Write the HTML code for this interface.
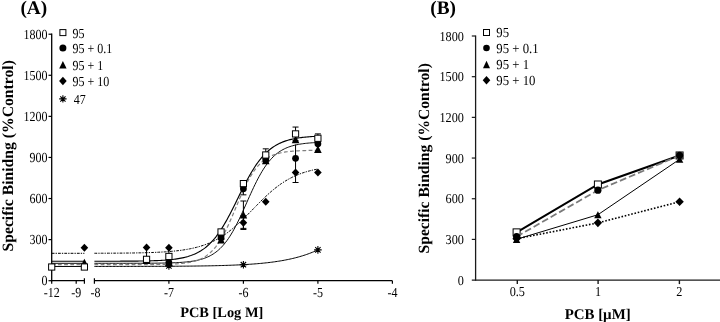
<!DOCTYPE html>
<html><head><meta charset="utf-8"><title>Figure</title>
<style>
html,body{margin:0;padding:0;background:#fff;}
body{width:720px;height:322px;overflow:hidden;font-family:"Liberation Serif",serif;}
svg{display:block;will-change:transform;text-rendering:geometricPrecision;}
.t{font-family:"Liberation Serif",serif;font-size:13.8px;fill:#000;}
.pt{font-family:"Liberation Serif",serif;font-size:19.3px;font-weight:bold;fill:#000;}
.al{font-family:"Liberation Serif",serif;font-size:13.3px;font-weight:bold;fill:#000;}
</style></head><body>
<svg width="720" height="322" viewBox="0 0 720 322">
<rect width="720" height="322" fill="#fff"/>
<g id="panelA">
<path d="M51.70,33.61 L51.70,281.30" stroke="#000" stroke-width="1.3" fill="none"/>
<path d="M48.50,280.70 L51.70,280.70" stroke="#000" stroke-width="1.2" fill="none"/>
<text transform="translate(47.60,285.35) scale(0.87,1)" text-anchor="end" class="t">0</text>
<path d="M48.50,239.62 L51.70,239.62" stroke="#000" stroke-width="1.2" fill="none"/>
<text transform="translate(47.60,244.27) scale(0.87,1)" text-anchor="end" class="t">300</text>
<path d="M48.50,198.54 L51.70,198.54" stroke="#000" stroke-width="1.2" fill="none"/>
<text transform="translate(47.60,203.19) scale(0.87,1)" text-anchor="end" class="t">600</text>
<path d="M48.50,157.45 L51.70,157.45" stroke="#000" stroke-width="1.2" fill="none"/>
<text transform="translate(47.60,162.10) scale(0.87,1)" text-anchor="end" class="t">900</text>
<path d="M48.50,116.37 L51.70,116.37" stroke="#000" stroke-width="1.2" fill="none"/>
<text transform="translate(47.60,121.02) scale(0.87,1)" text-anchor="end" class="t">1200</text>
<path d="M48.50,75.29 L51.70,75.29" stroke="#000" stroke-width="1.2" fill="none"/>
<text transform="translate(47.60,79.94) scale(0.87,1)" text-anchor="end" class="t">1500</text>
<path d="M48.50,34.21 L51.70,34.21" stroke="#000" stroke-width="1.2" fill="none"/>
<text transform="translate(47.60,38.86) scale(0.87,1)" text-anchor="end" class="t">1800</text>
<path d="M51.10,280.70 L84.40,280.70" stroke="#000" stroke-width="1.3" fill="none"/>
<path d="M51.70,280.70 L51.70,283.70 M76.2,280.70 L76.2,283.70 M84.40,278.30 L84.40,283.70" stroke="#000" stroke-width="1.2" fill="none"/>
<path d="M94.40,280.70 L392.40,280.70" stroke="#000" stroke-width="1.3" fill="none"/>
<path d="M94.40,278.30 L94.40,283.70" stroke="#000" stroke-width="1.2" fill="none"/>
<path d="M168.90,280.70 L168.90,283.70" stroke="#000" stroke-width="1.2" fill="none"/>
<text transform="translate(168.90,296.60) scale(0.87,1)" text-anchor="middle" class="t">-7</text>
<path d="M243.40,280.70 L243.40,283.70" stroke="#000" stroke-width="1.2" fill="none"/>
<text transform="translate(243.40,296.60) scale(0.87,1)" text-anchor="middle" class="t">-6</text>
<path d="M317.90,280.70 L317.90,283.70" stroke="#000" stroke-width="1.2" fill="none"/>
<text transform="translate(317.90,296.60) scale(0.87,1)" text-anchor="middle" class="t">-5</text>
<path d="M392.40,280.70 L392.40,283.70" stroke="#000" stroke-width="1.2" fill="none"/>
<text transform="translate(392.40,296.60) scale(0.87,1)" text-anchor="middle" class="t">-4</text>
<text transform="translate(51.70,296.60) scale(0.87,1)" text-anchor="middle" class="t">-12</text>
<text transform="translate(76.20,296.60) scale(0.87,1)" text-anchor="middle" class="t">-9</text>
<text transform="translate(95.40,296.60) scale(0.87,1)" text-anchor="middle" class="t">-8</text>
<path d="M51.70,266.46 L84.40,266.46" fill="none" stroke="#000" stroke-width="1.0"/>
<path d="M94.40,266.44 L95.80,266.44 L97.19,266.44 L98.59,266.44 L99.99,266.44 L101.38,266.44 L102.78,266.43 L104.18,266.43 L105.58,266.43 L106.97,266.43 L108.37,266.43 L109.77,266.43 L111.16,266.43 L112.56,266.43 L113.96,266.42 L115.35,266.42 L116.75,266.42 L118.15,266.42 L119.54,266.42 L120.94,266.42 L122.34,266.42 L123.73,266.41 L125.13,266.41 L126.53,266.41 L127.93,266.41 L129.32,266.40 L130.72,266.40 L132.12,266.40 L133.51,266.40 L134.91,266.39 L136.31,266.39 L137.70,266.39 L139.10,266.39 L140.50,266.38 L141.89,266.38 L143.29,266.38 L144.69,266.37 L146.08,266.37 L147.48,266.36 L148.88,266.36 L150.28,266.36 L151.67,266.35 L153.07,266.35 L154.47,266.34 L155.86,266.34 L157.26,266.33 L158.66,266.33 L160.05,266.32 L161.45,266.31 L162.85,266.31 L164.24,266.30 L165.64,266.29 L167.04,266.29 L168.43,266.28 L169.83,266.27 L171.23,266.26 L172.62,266.25 L174.02,266.24 L175.42,266.24 L176.82,266.23 L178.21,266.22 L179.61,266.20 L181.01,266.19 L182.40,266.18 L183.80,266.17 L185.20,266.16 L186.59,266.14 L187.99,266.13 L189.39,266.12 L190.78,266.10 L192.18,266.08 L193.58,266.07 L194.97,266.05 L196.37,266.03 L197.77,266.01 L199.17,265.99 L200.56,265.97 L201.96,265.95 L203.36,265.93 L204.75,265.91 L206.15,265.88 L207.55,265.86 L208.94,265.83 L210.34,265.80 L211.74,265.78 L213.13,265.75 L214.53,265.71 L215.93,265.68 L217.33,265.65 L218.72,265.61 L220.12,265.57 L221.52,265.54 L222.91,265.50 L224.31,265.45 L225.71,265.41 L227.10,265.36 L228.50,265.32 L229.90,265.27 L231.29,265.21 L232.69,265.16 L234.09,265.10 L235.48,265.04 L236.88,264.98 L238.28,264.92 L239.68,264.85 L241.07,264.78 L242.47,264.70 L243.87,264.63 L245.26,264.55 L246.66,264.46 L248.06,264.38 L249.45,264.29 L250.85,264.19 L252.25,264.09 L253.64,263.99 L255.04,263.88 L256.44,263.77 L257.83,263.65 L259.23,263.53 L260.63,263.41 L262.02,263.27 L263.42,263.14 L264.82,262.99 L266.22,262.84 L267.61,262.69 L269.01,262.52 L270.41,262.35 L271.80,262.18 L273.20,261.99 L274.60,261.80 L275.99,261.60 L277.39,261.39 L278.79,261.17 L280.18,260.95 L281.58,260.71 L282.98,260.47 L284.38,260.21 L285.77,259.95 L287.17,259.67 L288.57,259.38 L289.96,259.08 L291.36,258.77 L292.76,258.45 L294.15,258.11 L295.55,257.76 L296.95,257.39 L298.34,257.02 L299.74,256.62 L301.14,256.21 L302.53,255.79 L303.93,255.34 L305.33,254.88 L306.72,254.41 L308.12,253.91 L309.52,253.40 L310.92,252.87 L312.31,252.31 L313.71,251.74 L315.11,251.14 L316.50,250.53 L317.90,249.89" fill="none" stroke="#000" stroke-width="1.0"/>
<path d="M51.70,253.31 L84.40,253.31" fill="none" stroke="#000" stroke-width="1.0" stroke-dasharray="2.8,1.1,1.3,1.1"/>
<path d="M94.40,253.26 L95.80,253.25 L97.19,253.25 L98.59,253.24 L99.99,253.24 L101.38,253.23 L102.78,253.23 L104.18,253.22 L105.58,253.22 L106.97,253.21 L108.37,253.20 L109.77,253.20 L111.16,253.19 L112.56,253.18 L113.96,253.17 L115.35,253.16 L116.75,253.15 L118.15,253.14 L119.54,253.13 L120.94,253.12 L122.34,253.11 L123.73,253.09 L125.13,253.08 L126.53,253.06 L127.93,253.05 L129.32,253.03 L130.72,253.01 L132.12,252.99 L133.51,252.97 L134.91,252.94 L136.31,252.92 L137.70,252.89 L139.10,252.87 L140.50,252.84 L141.89,252.80 L143.29,252.77 L144.69,252.73 L146.08,252.70 L147.48,252.66 L148.88,252.61 L150.28,252.57 L151.67,252.52 L153.07,252.46 L154.47,252.41 L155.86,252.35 L157.26,252.28 L158.66,252.22 L160.05,252.14 L161.45,252.07 L162.85,251.98 L164.24,251.90 L165.64,251.80 L167.04,251.70 L168.43,251.60 L169.83,251.49 L171.23,251.37 L172.62,251.24 L174.02,251.10 L175.42,250.96 L176.82,250.81 L178.21,250.65 L179.61,250.47 L181.01,250.29 L182.40,250.09 L183.80,249.89 L185.20,249.67 L186.59,249.43 L187.99,249.19 L189.39,248.92 L190.78,248.65 L192.18,248.35 L193.58,248.04 L194.97,247.71 L196.37,247.36 L197.77,246.99 L199.17,246.60 L200.56,246.19 L201.96,245.75 L203.36,245.29 L204.75,244.81 L206.15,244.29 L207.55,243.76 L208.94,243.19 L210.34,242.60 L211.74,241.97 L213.13,241.31 L214.53,240.63 L215.93,239.91 L217.33,239.15 L218.72,238.37 L220.12,237.54 L221.52,236.69 L222.91,235.80 L224.31,234.87 L225.71,233.91 L227.10,232.91 L228.50,231.87 L229.90,230.80 L231.29,229.70 L232.69,228.56 L234.09,227.39 L235.48,226.19 L236.88,224.95 L238.28,223.69 L239.68,222.40 L241.07,221.09 L242.47,219.75 L243.87,218.39 L245.26,217.01 L246.66,215.62 L248.06,214.21 L249.45,212.80 L250.85,211.37 L252.25,209.94 L253.64,208.51 L255.04,207.08 L256.44,205.65 L257.83,204.23 L259.23,202.82 L260.63,201.42 L262.02,200.04 L263.42,198.68 L264.82,197.34 L266.22,196.02 L267.61,194.72 L269.01,193.46 L270.41,192.22 L271.80,191.01 L273.20,189.83 L274.60,188.69 L275.99,187.58 L277.39,186.50 L278.79,185.46 L280.18,184.45 L281.58,183.48 L282.98,182.55 L284.38,181.65 L285.77,180.78 L287.17,179.96 L288.57,179.16 L289.96,178.40 L291.36,177.68 L292.76,176.98 L294.15,176.32 L295.55,175.69 L296.95,175.09 L298.34,174.52 L299.74,173.97 L301.14,173.45 L302.53,172.96 L303.93,172.50 L305.33,172.06 L306.72,171.64 L308.12,171.25 L309.52,170.87 L310.92,170.52 L312.31,170.19 L313.71,169.87 L315.11,169.57 L316.50,169.29 L317.90,169.02" fill="none" stroke="#000" stroke-width="1.0" stroke-dasharray="2.8,1.1,1.3,1.1"/>
<path d="M51.70,263.31 L84.40,263.31" fill="none" stroke="#000" stroke-width="0.95"/>
<path d="M94.40,263.31 L95.80,263.31 L97.19,263.31 L98.59,263.31 L99.99,263.31 L101.38,263.31 L102.78,263.31 L104.18,263.31 L105.58,263.31 L106.97,263.30 L108.37,263.30 L109.77,263.30 L111.16,263.30 L112.56,263.30 L113.96,263.30 L115.35,263.30 L116.75,263.30 L118.15,263.30 L119.54,263.30 L120.94,263.30 L122.34,263.30 L123.73,263.30 L125.13,263.29 L126.53,263.29 L127.93,263.29 L129.32,263.29 L130.72,263.29 L132.12,263.28 L133.51,263.28 L134.91,263.28 L136.31,263.28 L137.70,263.27 L139.10,263.27 L140.50,263.26 L141.89,263.26 L143.29,263.25 L144.69,263.25 L146.08,263.24 L147.48,263.23 L148.88,263.22 L150.28,263.21 L151.67,263.20 L153.07,263.19 L154.47,263.18 L155.86,263.17 L157.26,263.15 L158.66,263.13 L160.05,263.11 L161.45,263.09 L162.85,263.07 L164.24,263.04 L165.64,263.01 L167.04,262.98 L168.43,262.95 L169.83,262.91 L171.23,262.86 L172.62,262.81 L174.02,262.76 L175.42,262.70 L176.82,262.63 L178.21,262.56 L179.61,262.48 L181.01,262.39 L182.40,262.29 L183.80,262.18 L185.20,262.06 L186.59,261.92 L187.99,261.77 L189.39,261.61 L190.78,261.43 L192.18,261.22 L193.58,261.00 L194.97,260.75 L196.37,260.48 L197.77,260.18 L199.17,259.85 L200.56,259.48 L201.96,259.08 L203.36,258.64 L204.75,258.15 L206.15,257.61 L207.55,257.02 L208.94,256.38 L210.34,255.67 L211.74,254.89 L213.13,254.04 L214.53,253.11 L215.93,252.10 L217.33,251.00 L218.72,249.81 L220.12,248.52 L221.52,247.12 L222.91,245.61 L224.31,243.98 L225.71,242.24 L227.10,240.37 L228.50,238.38 L229.90,236.26 L231.29,234.02 L232.69,231.66 L234.09,229.18 L235.48,226.58 L236.88,223.87 L238.28,221.06 L239.68,218.16 L241.07,215.19 L242.47,212.14 L243.87,209.05 L245.26,205.93 L246.66,202.79 L248.06,199.64 L249.45,196.51 L250.85,193.42 L252.25,190.37 L253.64,187.38 L255.04,184.47 L256.44,181.65 L257.83,178.93 L259.23,176.32 L260.63,173.82 L262.02,171.44 L263.42,169.18 L264.82,167.05 L266.22,165.04 L267.61,163.16 L269.01,161.40 L270.41,159.76 L271.80,158.23 L273.20,156.82 L274.60,155.51 L275.99,154.30 L277.39,153.19 L278.79,152.17 L280.18,151.23 L281.58,150.37 L282.98,149.58 L284.38,148.87 L285.77,148.21 L287.17,147.61 L288.57,147.07 L289.96,146.58 L291.36,146.13 L292.76,145.72 L294.15,145.35 L295.55,145.01 L296.95,144.71 L298.34,144.43 L299.74,144.18 L301.14,143.96 L302.53,143.75 L303.93,143.57 L305.33,143.40 L306.72,143.25 L308.12,143.11 L309.52,142.99 L310.92,142.88 L312.31,142.77 L313.71,142.68 L315.11,142.60 L316.50,142.53 L317.90,142.46" fill="none" stroke="#000" stroke-width="0.95"/>
<path d="M51.70,264.68 L84.40,264.68" fill="none" stroke="#808080" stroke-width="1.2" stroke-dasharray="3.8,2.4"/>
<path d="M94.40,264.68 L95.80,264.68 L97.19,264.68 L98.59,264.68 L99.99,264.68 L101.38,264.68 L102.78,264.68 L104.18,264.68 L105.58,264.68 L106.97,264.68 L108.37,264.68 L109.77,264.67 L111.16,264.67 L112.56,264.67 L113.96,264.67 L115.35,264.67 L116.75,264.67 L118.15,264.67 L119.54,264.67 L120.94,264.67 L122.34,264.67 L123.73,264.67 L125.13,264.67 L126.53,264.67 L127.93,264.66 L129.32,264.66 L130.72,264.66 L132.12,264.66 L133.51,264.66 L134.91,264.65 L136.31,264.65 L137.70,264.65 L139.10,264.64 L140.50,264.64 L141.89,264.63 L143.29,264.63 L144.69,264.62 L146.08,264.61 L147.48,264.61 L148.88,264.60 L150.28,264.59 L151.67,264.58 L153.07,264.56 L154.47,264.55 L155.86,264.53 L157.26,264.52 L158.66,264.50 L160.05,264.48 L161.45,264.45 L162.85,264.42 L164.24,264.39 L165.64,264.35 L167.04,264.32 L168.43,264.27 L169.83,264.22 L171.23,264.16 L172.62,264.10 L174.02,264.03 L175.42,263.95 L176.82,263.86 L178.21,263.76 L179.61,263.65 L181.01,263.52 L182.40,263.38 L183.80,263.22 L185.20,263.04 L186.59,262.85 L187.99,262.62 L189.39,262.37 L190.78,262.10 L192.18,261.78 L193.58,261.44 L194.97,261.05 L196.37,260.62 L197.77,260.13 L199.17,259.60 L200.56,259.00 L201.96,258.34 L203.36,257.60 L204.75,256.79 L206.15,255.89 L207.55,254.89 L208.94,253.80 L210.34,252.60 L211.74,251.28 L213.13,249.83 L214.53,248.26 L215.93,246.55 L217.33,244.70 L218.72,242.71 L220.12,240.56 L221.52,238.27 L222.91,235.83 L224.31,233.24 L225.71,230.51 L227.10,227.66 L228.50,224.68 L229.90,221.59 L231.29,218.42 L232.69,215.17 L234.09,211.88 L235.48,208.55 L236.88,205.21 L238.28,201.89 L239.68,198.61 L241.07,195.39 L242.47,192.24 L243.87,189.19 L245.26,186.25 L246.66,183.44 L248.06,180.75 L249.45,178.22 L250.85,175.82 L252.25,173.58 L253.64,171.48 L255.04,169.54 L256.44,167.74 L257.83,166.07 L259.23,164.55 L260.63,163.15 L262.02,161.87 L263.42,160.70 L264.82,159.64 L266.22,158.68 L267.61,157.81 L269.01,157.02 L270.41,156.31 L271.80,155.67 L273.20,155.09 L274.60,154.57 L275.99,154.11 L277.39,153.69 L278.79,153.32 L280.18,152.98 L281.58,152.68 L282.98,152.41 L284.38,152.17 L285.77,151.96 L287.17,151.77 L288.57,151.60 L289.96,151.44 L291.36,151.31 L292.76,151.19 L294.15,151.08 L295.55,150.98 L296.95,150.90 L298.34,150.82 L299.74,150.75 L301.14,150.69 L302.53,150.64 L303.93,150.59 L305.33,150.55 L306.72,150.51 L308.12,150.47 L309.52,150.44 L310.92,150.42 L312.31,150.39 L313.71,150.37 L315.11,150.35 L316.50,150.33 L317.90,150.32" fill="none" stroke="#808080" stroke-width="1.2" stroke-dasharray="3.8,2.4"/>
<path d="M51.70,261.25 L84.40,261.25" fill="none" stroke="#000" stroke-width="1.15"/>
<path d="M94.40,261.24 L95.80,261.24 L97.19,261.24 L98.59,261.24 L99.99,261.24 L101.38,261.24 L102.78,261.23 L104.18,261.23 L105.58,261.23 L106.97,261.23 L108.37,261.23 L109.77,261.22 L111.16,261.22 L112.56,261.22 L113.96,261.21 L115.35,261.21 L116.75,261.21 L118.15,261.20 L119.54,261.20 L120.94,261.19 L122.34,261.18 L123.73,261.18 L125.13,261.17 L126.53,261.16 L127.93,261.15 L129.32,261.14 L130.72,261.13 L132.12,261.12 L133.51,261.11 L134.91,261.10 L136.31,261.08 L137.70,261.07 L139.10,261.05 L140.50,261.03 L141.89,261.01 L143.29,260.98 L144.69,260.96 L146.08,260.93 L147.48,260.90 L148.88,260.86 L150.28,260.83 L151.67,260.79 L153.07,260.74 L154.47,260.69 L155.86,260.64 L157.26,260.58 L158.66,260.52 L160.05,260.45 L161.45,260.38 L162.85,260.29 L164.24,260.20 L165.64,260.10 L167.04,260.00 L168.43,259.88 L169.83,259.75 L171.23,259.61 L172.62,259.45 L174.02,259.28 L175.42,259.10 L176.82,258.90 L178.21,258.68 L179.61,258.44 L181.01,258.18 L182.40,257.90 L183.80,257.59 L185.20,257.25 L186.59,256.89 L187.99,256.49 L189.39,256.05 L190.78,255.58 L192.18,255.07 L193.58,254.52 L194.97,253.91 L196.37,253.26 L197.77,252.56 L199.17,251.79 L200.56,250.97 L201.96,250.08 L203.36,249.12 L204.75,248.09 L206.15,246.98 L207.55,245.79 L208.94,244.52 L210.34,243.16 L211.74,241.71 L213.13,240.17 L214.53,238.53 L215.93,236.79 L217.33,234.96 L218.72,233.02 L220.12,230.99 L221.52,228.85 L222.91,226.63 L224.31,224.31 L225.71,221.90 L227.10,219.41 L228.50,216.84 L229.90,214.20 L231.29,211.50 L232.69,208.75 L234.09,205.96 L235.48,203.14 L236.88,200.30 L238.28,197.45 L239.68,194.60 L241.07,191.78 L242.47,188.97 L243.87,186.21 L245.26,183.49 L246.66,180.83 L248.06,178.24 L249.45,175.72 L250.85,173.29 L252.25,170.94 L253.64,168.68 L255.04,166.51 L256.44,164.44 L257.83,162.48 L259.23,160.61 L260.63,158.84 L262.02,157.17 L263.42,155.59 L264.82,154.11 L266.22,152.72 L267.61,151.42 L269.01,150.20 L270.41,149.07 L271.80,148.01 L273.20,147.03 L274.60,146.12 L275.99,145.27 L277.39,144.49 L278.79,143.77 L280.18,143.10 L281.58,142.48 L282.98,141.91 L284.38,141.38 L285.77,140.90 L287.17,140.45 L288.57,140.04 L289.96,139.66 L291.36,139.32 L292.76,139.00 L294.15,138.71 L295.55,138.44 L296.95,138.19 L298.34,137.97 L299.74,137.76 L301.14,137.57 L302.53,137.40 L303.93,137.24 L305.33,137.10 L306.72,136.96 L308.12,136.84 L309.52,136.73 L310.92,136.63 L312.31,136.53 L313.71,136.45 L315.11,136.37 L316.50,136.30 L317.90,136.23" fill="none" stroke="#000" stroke-width="1.15"/>
<path d="M265.75,148.83 L265.75,161.15 M262.75,148.83 L268.75,148.83 M262.75,161.15 L268.75,161.15" stroke="#000" stroke-width="1.0" fill="none"/>
<path d="M295.55,127.05 L295.55,140.75 M292.55,127.05 L298.55,127.05 M292.55,140.75 L298.55,140.75" stroke="#000" stroke-width="1.0" fill="none"/>
<path d="M295.55,144.58 L295.55,171.97 M295.55,144.58 L295.55,144.58 M295.55,171.97 L295.55,171.97" stroke="#000" stroke-width="1.0" fill="none"/>
<path d="M295.55,172.52 L295.55,182.51 M292.55,182.51 L298.55,182.51" stroke="#000" stroke-width="1" fill="none"/>
<path d="M243.40,201.00 L243.40,228.39 M240.40,201.00 L246.40,201.00 M240.40,228.39 L246.40,228.39" stroke="#000" stroke-width="1.0" fill="none"/>
<path d="M243.40,215.79 L243.40,229.48 M240.40,215.79 L246.40,215.79 M240.40,229.48 L246.40,229.48" stroke="#000" stroke-width="1.0" fill="none"/>
<path d="M317.90,133.90 L317.90,141.02 M314.90,133.90 L320.90,133.90 M314.90,141.02 L320.90,141.02" stroke="#000" stroke-width="1.0" fill="none"/>
<path d="M243.40,183.88 L243.40,194.84 M240.40,183.88 L246.40,183.88 M240.40,194.84 L246.40,194.84" stroke="#000" stroke-width="1.0" fill="none"/>
<path d="M146.55,249 L146.55,257 M168.90,250 L168.90,254" stroke="#000" stroke-width="1" fill="none"/>
<path d="M165.10,266.05 L172.70,266.05 M166.21,263.36 L171.59,268.73 M168.90,262.25 L168.90,269.85 M171.59,263.36 L166.21,268.73" stroke="#000" stroke-width="1.1" fill="none"/>
<path d="M239.60,264.68 L247.20,264.68 M240.71,261.99 L246.09,267.37 M243.40,260.88 L243.40,268.48 M246.09,261.99 L240.71,267.37" stroke="#000" stroke-width="1.1" fill="none"/>
<path d="M314.10,249.89 L321.70,249.89 M315.21,247.20 L320.59,252.58 M317.90,246.09 L317.90,253.69 M320.59,247.20 L315.21,252.58" stroke="#000" stroke-width="1.1" fill="none"/>
<path d="M84.40,243.83 L88.20,247.83 L84.40,251.83 L80.60,247.83Z" fill="#000"/>
<path d="M146.55,243.42 L150.35,247.42 L146.55,251.42 L142.75,247.42Z" fill="#000"/>
<path d="M168.90,243.83 L172.70,247.83 L168.90,251.83 L165.10,247.83Z" fill="#000"/>
<path d="M221.05,234.93 L224.85,238.93 L221.05,242.93 L217.25,238.93Z" fill="#000"/>
<path d="M243.40,218.64 L247.20,222.64 L243.40,226.64 L239.60,222.64Z" fill="#000"/>
<path d="M265.75,197.82 L269.55,201.82 L265.75,205.82 L261.95,201.82Z" fill="#000"/>
<path d="M295.55,168.52 L299.35,172.52 L295.55,176.52 L291.75,172.52Z" fill="#000"/>
<path d="M317.90,168.38 L321.70,172.38 L317.90,176.38 L314.10,172.38Z" fill="#000"/>
<path d="M84.40,258.69 L88.20,266.29 L80.60,266.29Z" fill="#000"/>
<path d="M146.55,256.36 L150.35,263.96 L142.75,263.96Z" fill="#000"/>
<path d="M168.90,258.55 L172.70,266.15 L165.10,266.15Z" fill="#000"/>
<path d="M221.05,235.82 L224.85,243.42 L217.25,243.42Z" fill="#000"/>
<path d="M243.40,210.89 L247.20,218.49 L239.60,218.49Z" fill="#000"/>
<path d="M265.75,156.67 L269.55,164.27 L261.95,164.27Z" fill="#000"/>
<path d="M295.55,135.58 L299.35,143.18 L291.75,143.18Z" fill="#000"/>
<path d="M317.90,145.30 L321.70,152.90 L314.10,152.90Z" fill="#000"/>
<circle cx="146.55" cy="260.57" r="3.4" fill="#000"/>
<circle cx="168.90" cy="262.62" r="3.4" fill="#000"/>
<circle cx="221.05" cy="237.02" r="3.4" fill="#000"/>
<circle cx="243.40" cy="188.68" r="3.4" fill="#000"/>
<circle cx="265.75" cy="159.51" r="3.4" fill="#000"/>
<circle cx="295.55" cy="158.28" r="3.4" fill="#000"/>
<circle cx="317.90" cy="143.76" r="3.4" fill="#000"/>
<rect x="48.60" y="263.91" width="6.2" height="6.2" fill="#fff" stroke="#000" stroke-width="1.0"/>
<rect x="81.30" y="263.91" width="6.2" height="6.2" fill="#fff" stroke="#000" stroke-width="1.0"/>
<rect x="143.45" y="256.24" width="6.2" height="6.2" fill="#fff" stroke="#000" stroke-width="1.0"/>
<rect x="165.80" y="253.36" width="6.2" height="6.2" fill="#fff" stroke="#000" stroke-width="1.0"/>
<rect x="217.95" y="228.85" width="6.2" height="6.2" fill="#fff" stroke="#000" stroke-width="1.0"/>
<rect x="240.30" y="180.51" width="6.2" height="6.2" fill="#fff" stroke="#000" stroke-width="1.0"/>
<rect x="262.65" y="151.89" width="6.2" height="6.2" fill="#fff" stroke="#000" stroke-width="1.0"/>
<rect x="292.45" y="130.80" width="6.2" height="6.2" fill="#fff" stroke="#000" stroke-width="1.0"/>
<rect x="314.80" y="135.18" width="6.2" height="6.2" fill="#fff" stroke="#000" stroke-width="1.0"/>
<rect x="59.90" y="29.60" width="6.0" height="6.0" fill="#fff" stroke="#000" stroke-width="1.0"/>
<circle cx="62.90" cy="48.00" r="3.5" fill="#000"/>
<path d="M62.90,61.00 L66.60,68.60 L59.20,68.60Z" fill="#000"/>
<path d="M62.90,76.70 L66.70,81.00 L62.90,85.30 L59.10,81.00Z" fill="#000"/>
<path d="M59.20,98.90 L66.60,98.90 M60.28,96.28 L65.52,101.52 M62.90,95.20 L62.90,102.60 M65.52,96.28 L60.28,101.52" stroke="#000" stroke-width="1.1" fill="none"/>
<text transform="translate(72.40,37.50) scale(0.87,1)" text-anchor="start" class="t">95</text>
<text transform="translate(72.40,52.90) scale(0.87,1)" text-anchor="start" class="t">95 + 0.1</text>
<text transform="translate(72.40,69.70) scale(0.87,1)" text-anchor="start" class="t">95 + 1</text>
<text transform="translate(72.40,85.90) scale(0.87,1)" text-anchor="start" class="t">95 + 10</text>
<text transform="translate(73.80,103.80) scale(0.87,1)" text-anchor="start" class="t">47</text>
</g>
<g id="titles">
<text x="20.4" y="13.6" class="pt">(A)</text>
<text x="430.3" y="13.6" class="pt">(B)</text>
<text transform="translate(12.9,155.8) rotate(-90)" text-anchor="middle" class="al" style="font-size:15.7px">Specific Binidng (%Control)</text>
<text x="221.7" y="316.5" text-anchor="middle" class="al" style="font-size:14.4px">PCB [Log M]</text>
</g>
<g id="panelB">
<path d="M475.60,35.50 L475.60,280.70" stroke="#1a1a1a" stroke-width="1.3" fill="none"/>
<path d="M471.80,280.10 L720,280.10" stroke="#1a1a1a" stroke-width="1.3" fill="none"/>
<text transform="translate(463.90,284.80) scale(0.9,1)" text-anchor="end" class="t" style="font-size:13.6px">0</text>
<path d="M471.80,239.42 L475.60,239.42" stroke="#1a1a1a" stroke-width="1.2" fill="none"/>
<text transform="translate(463.90,244.12) scale(0.9,1)" text-anchor="end" class="t" style="font-size:13.6px">300</text>
<path d="M471.80,198.73 L475.60,198.73" stroke="#1a1a1a" stroke-width="1.2" fill="none"/>
<text transform="translate(463.90,203.43) scale(0.9,1)" text-anchor="end" class="t" style="font-size:13.6px">600</text>
<path d="M471.80,158.05 L475.60,158.05" stroke="#1a1a1a" stroke-width="1.2" fill="none"/>
<text transform="translate(463.90,162.75) scale(0.9,1)" text-anchor="end" class="t" style="font-size:13.6px">900</text>
<path d="M471.80,117.37 L475.60,117.37" stroke="#1a1a1a" stroke-width="1.2" fill="none"/>
<text transform="translate(463.90,122.07) scale(0.9,1)" text-anchor="end" class="t" style="font-size:13.6px">1200</text>
<path d="M471.80,76.69 L475.60,76.69" stroke="#1a1a1a" stroke-width="1.2" fill="none"/>
<text transform="translate(463.90,81.39) scale(0.9,1)" text-anchor="end" class="t" style="font-size:13.6px">1500</text>
<path d="M471.80,36.00 L475.60,36.00" stroke="#1a1a1a" stroke-width="1.2" fill="none"/>
<text transform="translate(463.90,40.70) scale(0.9,1)" text-anchor="end" class="t" style="font-size:13.6px">1800</text>
<path d="M517.30,280.10 L517.30,284.10" stroke="#1a1a1a" stroke-width="1.4" fill="none"/>
<text transform="translate(517.30,296.00) scale(0.9,1)" text-anchor="middle" class="t" style="font-size:13.6px">0.5</text>
<path d="M598.10,280.10 L598.10,284.10" stroke="#1a1a1a" stroke-width="1.4" fill="none"/>
<text transform="translate(598.10,296.00) scale(0.9,1)" text-anchor="middle" class="t" style="font-size:13.6px">1</text>
<path d="M679.40,280.10 L679.40,284.10" stroke="#1a1a1a" stroke-width="1.4" fill="none"/>
<text transform="translate(679.40,296.00) scale(0.9,1)" text-anchor="middle" class="t" style="font-size:13.6px">2</text>
<path d="M516.60,232.37 L597.90,184.49 L679.60,155.47" stroke="#000" stroke-width="2.05" fill="none"/>
<rect x="513.10" y="228.87" width="7.0" height="7.0" fill="#fff" stroke="#000" stroke-width="1.0"/>
<rect x="594.40" y="180.99" width="7.0" height="7.0" fill="#fff" stroke="#000" stroke-width="1.0"/>
<rect x="676.10" y="151.97" width="7.0" height="7.0" fill="#fff" stroke="#000" stroke-width="1.0"/>
<path d="M516.60,236.70 L597.90,190.19 L679.60,155.47" stroke="#7a7a7a" stroke-width="1.75" stroke-dasharray="6.8,3" fill="none"/>
<circle cx="516.60" cy="236.70" r="3.6" fill="#000"/>
<circle cx="597.90" cy="190.19" r="3.6" fill="#000"/>
<circle cx="679.60" cy="155.47" r="3.6" fill="#000"/>
<path d="M516.60,239.28 L597.90,214.74 L679.60,159.27" stroke="#000" stroke-width="1.0" fill="none"/>
<path d="M516.60,235.68 L520.30,242.88 L512.90,242.88Z" fill="#000"/>
<path d="M597.90,211.14 L601.60,218.34 L594.20,218.34Z" fill="#000"/>
<path d="M679.60,155.67 L683.30,162.87 L675.90,162.87Z" fill="#000"/>
<path d="M516.60,238.74 L597.90,222.87 L679.60,201.72" stroke="#000" stroke-width="1.6" stroke-dasharray="1.6,1.75" fill="none"/>
<path d="M516.60,234.44 L520.80,238.74 L516.60,243.04 L512.40,238.74Z" fill="#000"/>
<path d="M597.90,218.57 L602.10,222.87 L597.90,227.17 L593.70,222.87Z" fill="#000"/>
<path d="M679.60,197.42 L683.80,201.72 L679.60,206.02 L675.40,201.72Z" fill="#000"/>
<rect x="483.50" y="29.50" width="6.0" height="6.0" fill="#fff" stroke="#000" stroke-width="1.0"/>
<circle cx="486.50" cy="48.00" r="3.3" fill="#000"/>
<path d="M486.50,60.80 L490.00,68.20 L483.00,68.20Z" fill="#000"/>
<path d="M486.50,75.90 L490.30,80.20 L486.50,84.50 L482.70,80.20Z" fill="#000"/>
<text transform="translate(496.30,37.30) scale(0.925,1)" text-anchor="start" class="t" style="font-size:13.8px">95</text>
<text transform="translate(496.30,52.80) scale(0.925,1)" text-anchor="start" class="t" style="font-size:13.8px">95 + 0.1</text>
<text transform="translate(496.30,69.30) scale(0.925,1)" text-anchor="start" class="t" style="font-size:13.8px">95 + 1</text>
<text transform="translate(496.30,85.00) scale(0.925,1)" text-anchor="start" class="t" style="font-size:13.8px">95 + 10</text>
<text transform="translate(428.5,158.3) rotate(-90)" text-anchor="middle" class="al" style="font-size:15.6px">Specific Binding (%Control)</text>
<text x="597.7" y="318.5" text-anchor="middle" class="al" style="font-size:14.9px">PCB [µM]</text>
</g>
</svg>
</body></html>
